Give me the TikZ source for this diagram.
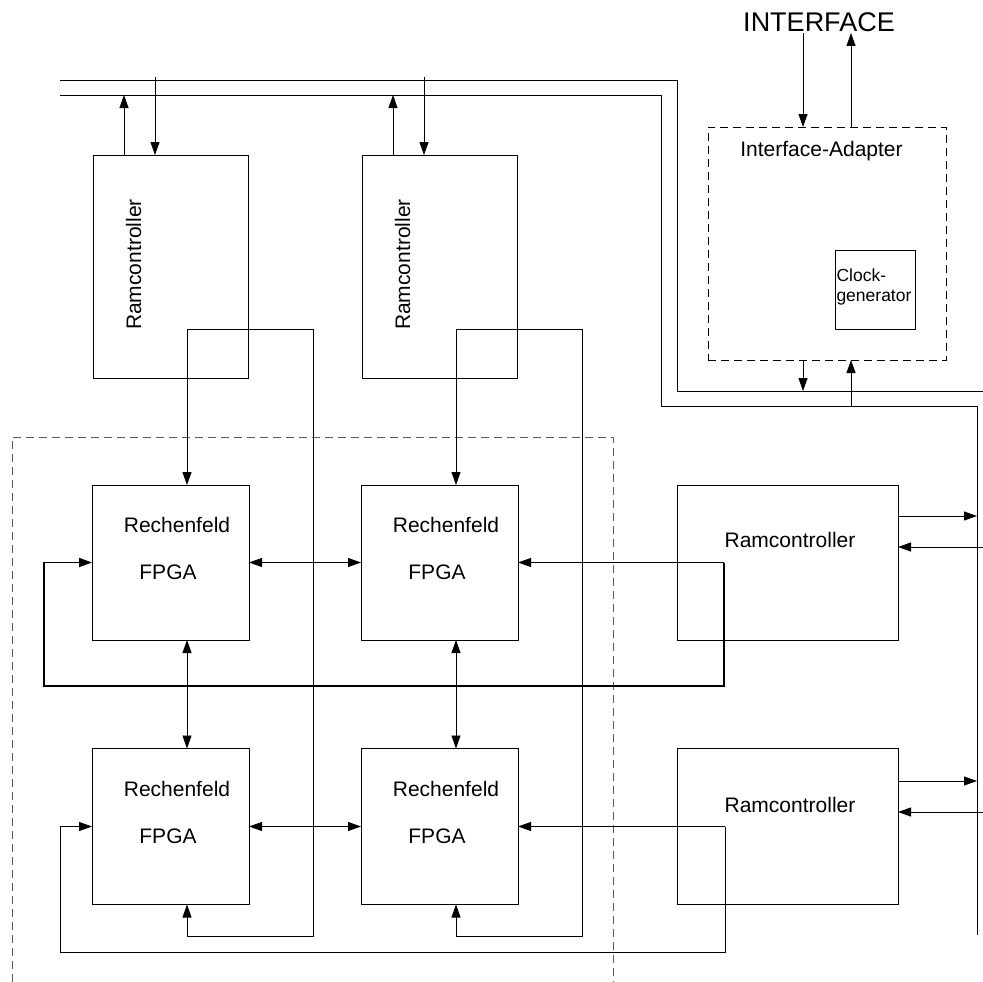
\documentclass[tikz,border=0pt]{standalone}
\usepackage{fontspec}
\setmainfont{Liberation Sans}
\usetikzlibrary{arrows.meta,calc}
\begin{document}
\begin{tikzpicture}[x=1pt,y=-1pt,line width=0.9pt,
  box/.style={draw, rectangle, inner sep=0pt, outer sep=0pt},
  lbl/.style={font=\fontsize{21}{25}\selectfont, inner sep=0pt, outer sep=0pt},
  tip/.style={-{Triangle[length=13pt,width=9pt]}},
  bi/.style={{Triangle[length=13pt,width=9pt]}-{Triangle[length=13pt,width=9pt]}},
  dashbox/.style={draw, dash pattern=on 8pt off 5pt}]
\useasboundingbox (0,0) rectangle (983,982);

% bus lines
\coordinate (b1w) at (60,80);
\coordinate (b1c) at (677,80);
\coordinate (b1d) at (677,391);
\coordinate (b1e) at (983,391);
\coordinate (b2w) at (60,95);
\coordinate (b2c) at (661,95);
\coordinate (b2d) at (661,406);
\coordinate (b2e) at (977,406);
\coordinate (b2s) at (977,935);
\draw (b1w) -- (b1c) -- (b1d) -- (b1e);
\draw (b2w) -- (b2c) -- (b2d) -- (b2e) -- (b2s);

% boxes
\node[box, minimum width=155pt, minimum height=223pt] (rc1) at (170.5,266.5) {};
\node[box, minimum width=155pt, minimum height=223pt] (rc2) at (439.5,266.5) {};
\node[box, minimum width=157pt, minimum height=155pt] (fa) at (170.5,562.5) {};
\node[box, minimum width=157pt, minimum height=155pt] (fb) at (439.5,562.5) {};
\node[box, minimum width=157pt, minimum height=156pt] (fc) at (170.5,826.5) {};
\node[box, minimum width=157pt, minimum height=156pt] (fd) at (439.5,826.5) {};
\node[box, minimum width=221pt, minimum height=155pt] (re) at (787.5,562.5) {};
\node[box, minimum width=221pt, minimum height=156pt] (rf) at (787.5,826.5) {};
\node[box, dashbox, minimum width=238pt, minimum height=233pt] (ia) at (827,243.5) {};
\node[box, minimum width=80pt, minimum height=79pt] (clk) at (875,289.5) {};

% computing field frame
\draw[dashbox, color=black!65] (12,982) -- (12,437) -- (613,437) -- (613,982);

% labels
\node[lbl, rotate=90, anchor=base] (t1) at (141,264.5) {Ramcontroller};
\node[lbl, rotate=90, anchor=base] (t2) at (410,264.5) {Ramcontroller};
\node[lbl, anchor=base] (ta1) at (177,532) {Rechenfeld};
\node[lbl, anchor=base] (ta2) at (168,579) {FPGA};
\node[lbl, anchor=base] (tb1) at (446,532) {Rechenfeld};
\node[lbl, anchor=base] (tb2) at (437,579) {FPGA};
\node[lbl, anchor=base] (tc1) at (177,796) {Rechenfeld};
\node[lbl, anchor=base] (tc2) at (168,843) {FPGA};
\node[lbl, anchor=base] (td1) at (446,796) {Rechenfeld};
\node[lbl, anchor=base] (td2) at (437,843) {FPGA};
\node[lbl, anchor=base] (te) at (790,547) {Ramcontroller};
\node[lbl, anchor=base] (tf) at (790,812) {Ramcontroller};
\node[lbl, anchor=base] (tia) at (821.5,156) {Interface-Adapter};
\node[lbl, font=\fontsize{27}{30}\selectfont, anchor=base] (itf) at (819,32) {INTERFACE};
\node[lbl, font=\fontsize{17.5}{20}\selectfont, align=left, anchor=north west] (tclk) at (836.5,268.5) {Clock-\\generator};

% ramcontrollers to the bus
\draw[tip] ([xshift=-46.5pt]rc1.north) -- ([xshift=-46.5pt]rc1.north |- b2w);
\draw[tip] ([xshift=-15.5pt,yshift=3pt]rc1.north |- b1w) -- ([xshift=-15.5pt]rc1.north);
\draw[tip] ([xshift=-46.5pt]rc2.north) -- ([xshift=-46.5pt]rc2.north |- b2w);
\draw[tip] ([xshift=-15.5pt,yshift=3pt]rc2.north |- b1w) -- ([xshift=-15.5pt]rc2.north);

% interface adapter
\draw[tip] (803,33) -- (ia.north -| 803,0);
\draw[tip] (ia.north -| 851,0) -- (851,33);
\draw[tip] (ia.south -| 803,0) -- (b1d -| 803,0);
\draw[tip] (b2d -| 851,0) -- (ia.south -| 851,0);

% ramcontroller feeds into the field
\coordinate (p1) at (187,329);
\coordinate (q1) at (313,329);
\coordinate (p2) at (456,329);
\coordinate (q2) at (582,329);
\draw[tip] (p1) -- (p1 |- fa.north);
\draw[tip] (p1) -- (q1) -- (q1 |- 0,936) -- (p1 |- 0,936) -- (p1 |- fc.south);
\draw[tip] (p2) -- (p2 |- fb.north);
\draw[tip] (p2) -- (q2) -- (q2 |- 0,936) -- (p2 |- 0,936) -- (p2 |- fd.south);

% neighbour links between the FPGAs
\draw[bi] (fa.east) -- (fb.west);
\draw[bi] (fc.east) -- (fd.west);
\draw[bi] (fa.south -| p1) -- (fc.north -| p1);
\draw[bi] (fb.south -| p2) -- (fd.north -| p2);

% right ramcontrollers into the field
\coordinate (e1) at (724,562.5);
\coordinate (f1) at (725,826.5);
\draw[tip] (e1) -- (fb.east);
\draw[tip, line width=1.8pt] (e1) -- (724,686) -- (44,686) -- (44,562.5) -- (fa.west);
\draw[tip] (f1) -- (fd.east);
\draw[tip] (f1) -- (725,952) -- (60,952) -- (60,826.5) -- (fc.west);

% right ramcontrollers to the bus
\draw[tip] ([yshift=46.5pt]re.east) -- ([yshift=46.5pt]re.east -| b2s);
\draw[tip] ([yshift=15.5pt]re.east -| b1e) -- ([yshift=15.5pt]re.east);
\draw[tip] ([yshift=45.5pt]rf.east) -- ([yshift=45.5pt]rf.east -| b2s);
\draw[tip] ([yshift=14.5pt]rf.east -| b1e) -- ([yshift=14.5pt]rf.east);
\end{tikzpicture}
\end{document}
